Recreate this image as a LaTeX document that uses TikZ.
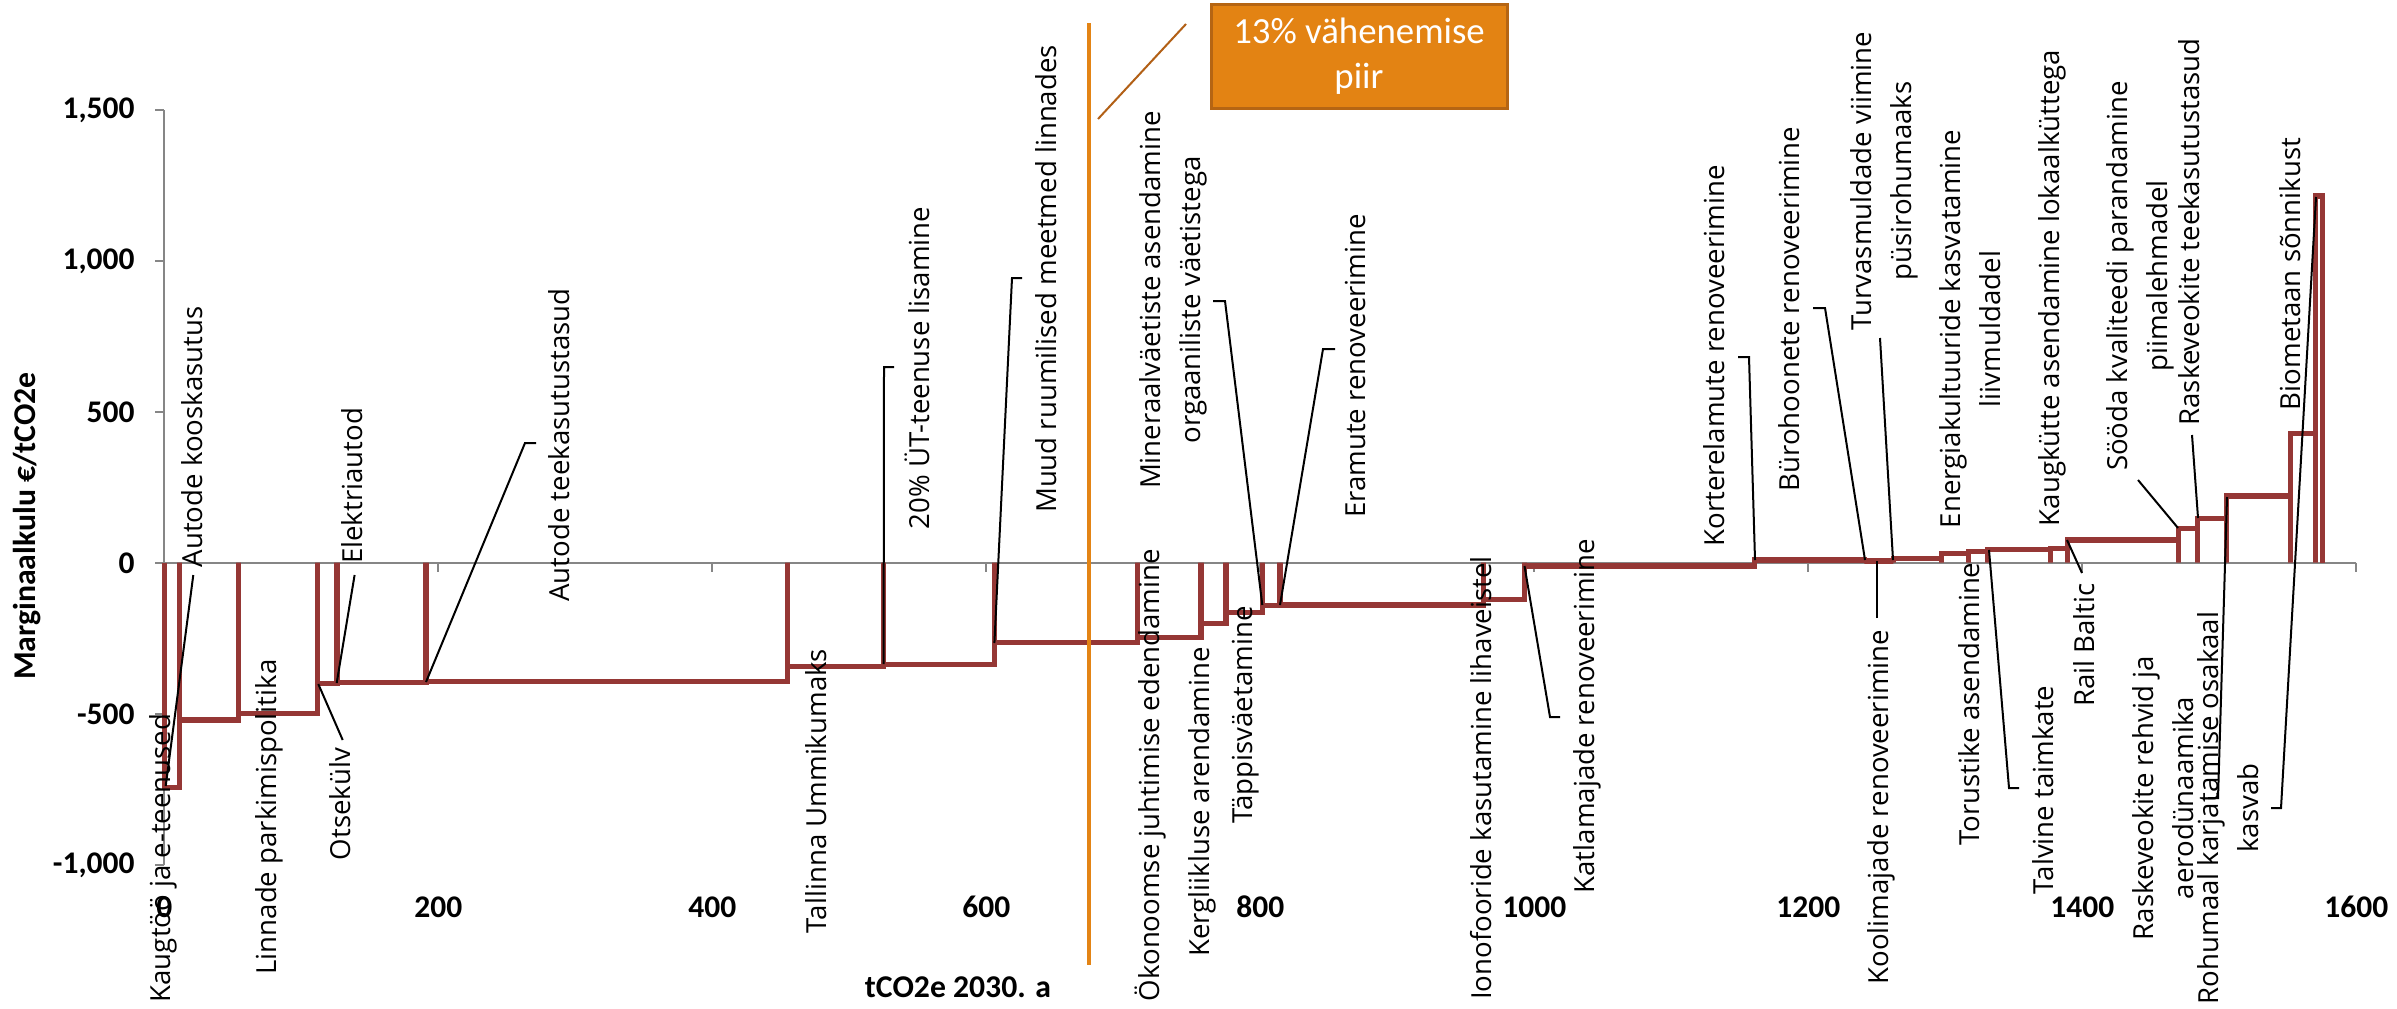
\documentclass[tikz,border=0pt]{standalone}
\usepackage{fontspec}
\setmainfont{Open Sans}
\newfontfamily\calib{Carlito}
\definecolor{barred}{RGB}{149,55,53}
\definecolor{axgray}{RGB}{134,134,134}
\definecolor{limorange}{RGB}{227,132,21}
\definecolor{boxfill}{RGB}{227,131,19}
\definecolor{boxedge}{RGB}{181,101,19}
\definecolor{callbrown}{RGB}{178,96,22}
\tikzset{
  lbl/.style={rotate=90, font=\fontsize{13.8}{20}\selectfont, inner sep=0pt, text height=10.5pt, text depth=3.3pt},
  lbltwo/.style={rotate=90, font=\fontsize{13.8}{20}\selectfont, inner sep=0pt, align=center},
  leader/.style={draw=black, line width=1pt},
  axisline/.style={draw=axgray, line width=1pt},
  stepline/.style={draw=barred, line width=2.6pt, line join=miter},
  yticklbl/.style={anchor=east, inner sep=0pt, font=\calib\bfseries\fontsize{15.75}{18}\selectfont},
  xticklbl/.style={anchor=center, inner sep=0pt, font=\calib\bfseries\fontsize{15.75}{18}\selectfont},
  axtitle/.style={inner sep=0pt, font=\calib\bfseries\fontsize{15.85}{18}\selectfont},
  limitbox/.style={fill=boxfill, draw=boxedge, line width=1.5pt, minimum width=148pt, minimum height=52pt, inner sep=0pt, align=center, text=white, font=\calib\fontsize{18.4}{22.5}\selectfont},
  callout/.style={draw=callbrown, line width=1pt},
  limitline/.style={draw=limorange, line width=2.3pt}
}
\begin{document}
\begin{tikzpicture}[x=0.5pt,y=-0.5pt]
\useasboundingbox[fill=white] (0,0) rectangle (2397,1008);
% ---------- axes and step curve (data coordinates) ----------
\begin{scope}[shift={(82.15pt,-281.35pt)},x=0.685pt,y=0.1509pt]
  \draw[axisline] (0,-1000) -- (0,1500);
  \foreach \t in {-1000,-500,0,500,1000,1500} \draw[axisline] (0,\t) -- ++(-4.5pt,0);
  \draw[axisline] (0,0) -- (1600,0);
  \foreach \v in {200,400,...,1600} \draw[axisline] (\v,0) -- ++(0,-4.5pt);
  \draw[stepline] (0,0) -- (0,-746) -- (11,-746) -- (11,0)
    -- (11,-521) -- (54,-521) -- (54,0)
    -- (54,-499) -- (112,-499) -- (112,0)
    -- (112,-400) -- (126,-400) -- (126,0)
    -- (126,-397) -- (191,-397) -- (191,0)
    -- (191,-393) -- (455,-393) -- (455,0)
    -- (455,-345) -- (525,-345) -- (525,0)
    -- (525,-336) -- (606,-336) -- (606,0)
    -- (606,-265) -- (710.6,-265) -- (710.6,0)
    -- (710.6,-248) -- (756.7,-248) -- (756.7,0)
    -- (756.7,-201) -- (775,-201) -- (775,0)
    -- (775,-166) -- (801.5,-166) -- (801.5,0)
    -- (801.5,-142) -- (814.4,-142) -- (814.4,0)
    -- (814.4,-140) -- (962.8,-140) -- (962.8,0)
    -- (962.8,-122) -- (993,-122) -- (993,0)
    -- (993,-11) -- (1161,-11) -- (1161,0)
    -- (1161,9) -- (1241,9) -- (1241,0)
    -- (1241,6) -- (1262,6) -- (1262,0)
    -- (1262,14) -- (1297,14) -- (1297,0)
    -- (1297,31) -- (1317,31) -- (1317,0)
    -- (1317,36) -- (1331,36) -- (1331,0)
    -- (1331,44) -- (1377,44) -- (1377,0)
    -- (1377,48) -- (1389,48) -- (1389,0)
    -- (1389,75) -- (1470,75) -- (1470,0)
    -- (1470,114) -- (1484,114) -- (1484,0)
    -- (1484,147) -- (1505,147) -- (1505,0)
    -- (1505,221) -- (1552,221) -- (1552,0)
    -- (1552,429) -- (1570,429) -- (1570,0)
    -- (1570,1215) -- (1575.5,1215) -- (1575.5,0);
\end{scope}
% ---------- tick labels ----------
\node[yticklbl] (y1500) at (135,110) {1,500};
\node[yticklbl] (y1000) at (135,261) {1,000};
\node[yticklbl] (y500) at (135,412) {500};
\node[yticklbl] (y0) at (135,563) {0};
\node[yticklbl] (ym500) at (135,714) {-500};
\node[yticklbl] (ym1000) at (135,865) {-1,000};
\node[xticklbl] (x0) at (164.3,907) {0};
\node[xticklbl] (x200) at (438.3,907) {200};
\node[xticklbl] (x400) at (712.3,907) {400};
\node[xticklbl] (x600) at (986.3,907) {600};
\node[xticklbl] (x800) at (1260.3,907) {800};
\node[xticklbl] (x1000) at (1534.3,907) {1000};
\node[xticklbl] (x1200) at (1808.3,907) {1200};
\node[xticklbl] (x1400) at (2082.3,907) {1400};
\node[xticklbl] (x1600) at (2356.3,907) {1600};
\node[axtitle, rotate=90] (ytitle) at (27,526) {Marginaalkulu €/tCO2e};
\node[axtitle] (xtitle) at (958,987) {tCO2e 2030. a};
% ---------- limit line and callout ----------
\coordinate (o1) at (1089,23);
\coordinate (o2) at (1089,965);
\draw[limitline] (o1) -- (o2);
\node[limitbox] (lim) at (1359,56) {13\% vähenemise\\piir};
\coordinate (c1) at (1186,24);
\coordinate (c2) at (1098,119);
\draw[callout] (c1) -- (c2);
% ---------- leader lines ----------
\coordinate (a1) at (193.3,575);   \coordinate (a2) at (165.7,786);
\draw[leader] (a1) -- (a2);
\coordinate (e1) at (354.6,575);   \coordinate (e2) at (336.7,683);
\draw[leader] (e1) -- (e2);
\coordinate (s1) at (342.7,740);   \coordinate (s2) at (318.3,684);
\draw[leader] (s1) -- (s2);
\coordinate (t1) at (536,443); \coordinate (t2) at (525,443); \coordinate (t3) at (426,682);
\draw[leader] (t1) -- (t2) -- (t3);
\coordinate (u1) at (894,367); \coordinate (u2) at (884,367); \coordinate (u3) at (883.6,664);
\draw[leader] (u1) -- (u2) -- (u3);
\coordinate (m1) at (1022,278); \coordinate (m2) at (1012,278); \coordinate (m3) at (994.4,643);
\draw[leader] (m1) -- (m2) -- (m3);
\coordinate (n1) at (1213,301); \coordinate (n2) at (1225,301); \coordinate (n3) at (1262.3,605);
\draw[leader] (n1) -- (n2) -- (n3);
\coordinate (r1) at (1335,349); \coordinate (r2) at (1323,349); \coordinate (r3) at (1280,605);
\draw[leader] (r1) -- (r2) -- (r3);
\coordinate (k1) at (1560,717); \coordinate (k2) at (1550,717); \coordinate (k3) at (1524.5,566);
\draw[leader] (k1) -- (k2) -- (k3);
\coordinate (ko1) at (1738,357); \coordinate (ko2) at (1749,357); \coordinate (ko3) at (1755,560);
\draw[leader] (ko1) -- (ko2) -- (ko3);
\coordinate (b1) at (1813,308); \coordinate (b2) at (1825,308); \coordinate (b3) at (1865,560);
\draw[leader] (b1) -- (b2) -- (b3);
\coordinate (tv1) at (1880,338); \coordinate (tv2) at (1893,560);
\draw[leader] (tv1) -- (tv2);
\coordinate (kl1) at (1877,618); \coordinate (kl2) at (1877,561);
\draw[leader] (kl1) -- (kl2);
\coordinate (ta1) at (2019,788); \coordinate (ta2) at (2009,788); \coordinate (ta3) at (1989,550);
\draw[leader] (ta1) -- (ta2) -- (ta3);
\coordinate (rb1) at (2082,573); \coordinate (rb2) at (2067,540);
\draw[leader] (rb1) -- (rb2);
\coordinate (so1) at (2138,480); \coordinate (so2) at (2178,528);
\draw[leader] (so1) -- (so2);
\coordinate (rt1) at (2192,435); \coordinate (rt2) at (2198,518);
\draw[leader] (rt1) -- (rt2);
\coordinate (rh1) at (2208,798); \coordinate (rh2) at (2218,798); \coordinate (rh3) at (2227,497);
\draw[leader] (rh1) -- (rh2) -- (rh3);
\coordinate (ro1) at (2271,808); \coordinate (ro2) at (2281,808); \coordinate (ro3) at (2316,197);
\draw[leader] (ro1) -- (ro2) -- (ro3);
% ---------- measure labels ----------
\node[lbl] (kaug) at (163,858) {Kaugtöö ja e-teenused};
\node[lbl] (akoos) at (195,437) {Autode kooskasutus};
\node[lbl] (linn) at (269,817) {Linnade parkimispolitika};
\node[lbl] (elek) at (355,486) {Elektriautod};
\node[lbl] (otse) at (343,804) {Otsekülv};
\node[lbl] (atee) at (562,445) {Autode teekasutustasud};
\node[lbl] (tall) at (819,791) {Tallinna Ummikumaks};
\node[lbl] (yt) at (922,368) {20\% ÜT-teenuse lisamine};
\node[lbl] (muud) at (1049,279) {Muud ruumilised meetmed linnades};
\node[lbltwo] (mine) at (1173,300) {Mineraalväetiste asendamine\\orgaaniliste väetistega};
\node[lbl] (eram) at (1358,366) {Eramute renoveerimine};
\node[lbl] (okon) at (1152,775) {Ökonoomse juhtimise edendamine};
\node[lbl] (kerg) at (1202,802) {Kergliikluse arendamine};
\node[lbl] (tapp) at (1245,715) {Täppisväetamine};
\node[lbl] (iono) at (1484,778) {Ionofooride kasutamine lihaveistel};
\node[lbl] (katl) at (1587,716) {Katlamajade renoveerimine};
\node[lbl] (kort) at (1717,356) {Korterelamute renoveerimine};
\node[lbl] (byro) at (1792,309) {Bürohoonete renoveerimine};
\node[lbltwo] (turv) at (1884,181) {Turvasmuldade viimine\\püsirohumaaks};
\node[lbl] (kool) at (1881,807) {Koolimajade renoveerimine};
\node[lbltwo] (ener) at (1970,329) {Energiakultuuride kasvatamine\\liivmuldadel};
\node[lbl] (toru) at (1972,704) {Torustike asendamine};
\node[lbl] (talv) at (2046,790) {Talvine taimkate};
\node[lbl] (kaugk) at (2052,288) {Kaugkütte asendamine lokaalküttega};
\node[lbl] (rail) at (2087,645) {Rail Baltic};
\node[lbltwo] (sood) at (2140,276) {Sööda kvaliteedi parandamine\\piimalehmadel};
\node[lbl] (rtee) at (2192,232) {Raskeveokite teekasutustasud};
\node[lbl] (biom) at (2293,274) {Biometaan sõnnikust};
\node[lbltwo] (rehv) at (2163,798) {Raskeveokite rehvid ja\\aerodünaamika};
\node[lbltwo] (rohu) at (2228,808) {Rohumaal karjatamise osakaal\\kasvab};
\end{tikzpicture}
\end{document}
